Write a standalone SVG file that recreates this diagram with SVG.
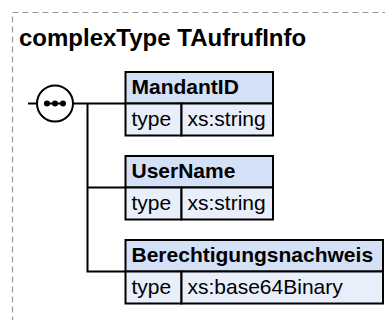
<svg xmlns="http://www.w3.org/2000/svg" width="385" height="320" viewBox="0 0 385 320">
<style>
text{font-family:"Liberation Sans",Arial,sans-serif;fill:#000}
.title{font-size:24px;font-weight:bold}
.hd{font-size:21px;font-weight:bold}
.tx{font-size:21px}
.hfill{fill:#d3e0f6;stroke:#000;stroke-width:2}
.rfill{fill:#e8eefa;stroke:#000;stroke-width:2}
.ln{stroke:#000;stroke-width:2;fill:none}
</style>
<rect x="12.5" y="12.5" width="400" height="340" fill="#fff" stroke="#999" stroke-width="1.2" stroke-dasharray="6,4"/>
<text class="title" x="19" y="46">complexType TAufrufInfo</text>
<g id="connectors">
<line class="ln" x1="28" y1="103.5" x2="37" y2="103.5"/>
<line class="ln" x1="73" y1="103.5" x2="125.5" y2="103.5"/>
<polyline class="ln" points="87.5,103.5 87.5,271.5 125.5,271.5"/>
<line class="ln" x1="87.5" y1="187.5" x2="125.5" y2="187.5"/>
</g>
<g id="sequence">
<circle cx="55" cy="103.5" r="18" fill="#fff" stroke="#000" stroke-width="2"/>
<line x1="44" y1="103.5" x2="66" y2="103.5" stroke="#000" stroke-width="2"/>
<circle cx="47" cy="103.5" r="3"/>
<circle cx="55" cy="103.5" r="3"/>
<circle cx="63" cy="103.5" r="3"/>
</g>
<g id="MandantID">
<rect class="hfill" x="125.5" y="72" width="147.5" height="31.5"/>
<rect class="rfill" x="125.5" y="103.5" width="56" height="32"/>
<rect class="rfill" x="181.5" y="103.5" width="91.5" height="32"/>
<text class="hd" x="131.5" y="94">MandantID</text>
<text class="tx" x="131.5" y="125.5">type</text>
<text class="tx" x="187.5" y="125.5">xs:string</text>
</g>
<g id="UserName">
<rect class="hfill" x="125.5" y="156" width="147.5" height="31.5"/>
<rect class="rfill" x="125.5" y="187.5" width="56" height="32"/>
<rect class="rfill" x="181.5" y="187.5" width="91.5" height="32"/>
<text class="hd" x="131.5" y="178">UserName</text>
<text class="tx" x="131.5" y="209.5">type</text>
<text class="tx" x="187.5" y="209.5">xs:string</text>
</g>
<g id="Berechtigungsnachweis">
<rect class="hfill" x="125.5" y="240" width="257.5" height="31.5"/>
<rect class="rfill" x="125.5" y="271.5" width="56" height="32"/>
<rect class="rfill" x="181.5" y="271.5" width="201.5" height="32"/>
<text class="hd" x="131.5" y="262">Berechtigungsnachweis</text>
<text class="tx" x="131.5" y="293.5">type</text>
<text class="tx" x="187.5" y="293.5">xs:base64Binary</text>
</g>
</svg>
